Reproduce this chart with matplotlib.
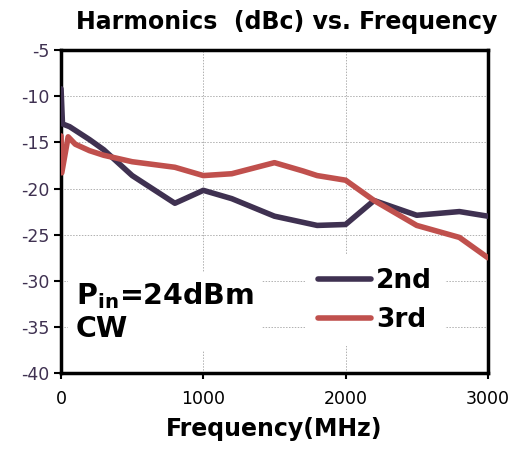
import matplotlib as mpl
import matplotlib.pyplot as plt

mpl.rcParams.update({"font.family": "DejaVu Sans", "mathtext.fontset": "dejavusans",
                     "axes.unicode_minus": False})

freq_2nd = [0, 10, 60, 200, 300, 500, 800, 1000, 1200, 1500, 1800, 2000, 2200, 2500, 2800, 3000]
h2 = [-9.2, -13.0, -13.3, -14.7, -15.8, -18.6, -21.6, -20.2, -21.1, -23.0, -24.0, -23.9, -21.3, -22.9, -22.5, -23.0]

freq_3rd = [0, 5, 50, 100, 200, 300, 500, 800, 1000, 1200, 1500, 1700, 1800, 2000, 2200, 2500, 2800, 3000]
h3 = [-14.3, -18.3, -14.4, -15.2, -15.9, -16.4, -17.1, -17.7, -18.6, -18.4, -17.2, -18.1, -18.6, -19.1, -21.3, -24.0, -25.3, -27.5]

PURPLE = "#3f3151"
RED = "#c0504d"

fig = plt.figure(figsize=(5.13, 4.55), dpi=100)
ax = fig.add_axes([0.119, 0.180, 0.832, 0.710])

ax.plot(freq_2nd, h2, color=PURPLE, lw=4, solid_capstyle="round", label="2nd", zorder=3)
ax.plot(freq_3rd, h3, color=RED, lw=4, solid_capstyle="round", label="3rd", zorder=3)

ax.set_xlim(0, 3000)
ax.set_ylim(-40, -5)
ax.set_xticks([0, 1000, 2000, 3000])
ax.set_yticks(range(-40, -4, 5))
ax.tick_params(axis="y", labelsize=12.5, labelcolor=PURPLE, length=5, width=1.5, direction="out")
ax.tick_params(axis="x", labelsize=12.5, labelcolor="black", length=4, width=1.5, direction="out", pad=8)
for spine in ax.spines.values():
    spine.set_linewidth(2.5)
ax.grid(True, color="#b0b0b0", linestyle=(0, (1.5, 1.5)), linewidth=0.7)

fig.text(0.558, 0.952, "Harmonics  (dBc) vs. Frequency", fontsize=17, fontweight="bold",
         ha="center", va="center")
ax.set_xlabel("Frequency(MHz)", fontsize=17, fontweight="bold", labelpad=7)

ax.text(0.035, 0.19, r"$\mathbf{P_{in}}$=24dBm" + "\nCW", transform=ax.transAxes, fontsize=20.5,
        fontweight="bold", ha="left", va="center", linespacing=1.15, zorder=4,
        bbox=dict(facecolor="white", edgecolor="none", pad=6))

leg = ax.legend(loc="center", bbox_to_anchor=(0.735, 0.225), fontsize=19, frameon=True,
                facecolor="white", edgecolor="none", framealpha=1, handlelength=2.0,
                handletextpad=0.2, labelspacing=0.5, borderpad=0.5)
for t in leg.get_texts():
    t.set_fontweight("bold")
leg.set_zorder(5)

fig.savefig("out.png", dpi=100)
